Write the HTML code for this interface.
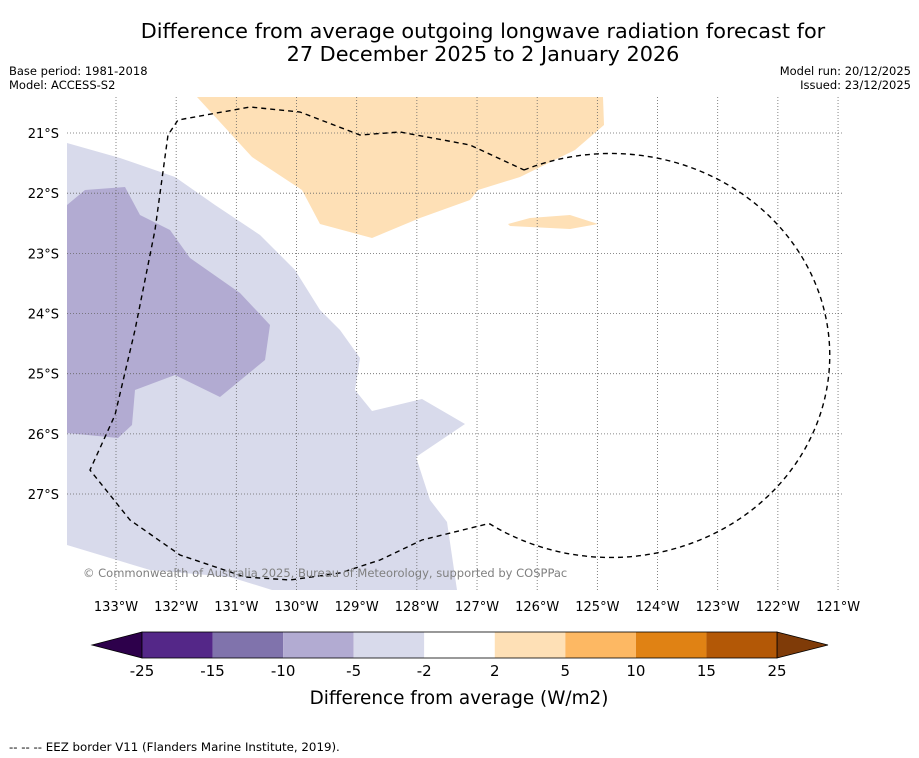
<!DOCTYPE html>
<html><head><meta charset="utf-8">
<style>
body{margin:0;background:#fff;width:919px;height:758px;overflow:hidden;font-family:"Liberation Sans","DejaVu Sans",sans-serif;}
svg{position:absolute;left:0;top:0}
</style></head>
<body>
<svg id="c" width="919" height="758">
<text x="483" y="38" text-anchor="middle" font-size="20.8" font-family="DejaVu Sans, sans-serif">Difference from average outgoing longwave radiation forecast for</text>
<text x="483" y="61" text-anchor="middle" font-size="20.8" font-family="DejaVu Sans, sans-serif">27 December 2025 to 2 January 2026</text>
<text x="9" y="75" font-size="11.5" font-family="DejaVu Sans, sans-serif">Base period: 1981-2018</text>
<text x="9" y="89" font-size="11.5" font-family="DejaVu Sans, sans-serif">Model: ACCESS-S2</text>
<text x="911" y="75" text-anchor="end" font-size="11.5" font-family="DejaVu Sans, sans-serif">Model run: 20/12/2025</text>
<text x="911" y="89" text-anchor="end" font-size="11.5" font-family="DejaVu Sans, sans-serif">Issued: 23/12/2025</text>
<defs><clipPath id="mc"><rect x="67" y="97" width="776" height="493"/></clipPath></defs>
<g id="map" clip-path="url(#mc)">
<polygon fill="#d8daeb" points="67,143 120,158 175,177 215,205 260,235 295,270 320,310 340,330 360,358 355,390 372,411 422,399 465,424 416,457 430,500 447,522 457,590 272,590 230,577 150,570 67,545"/>
<polygon fill="#b2abd2" points="67,205 85,190 125,187 140,215 170,230 190,258 240,293 270,325 265,360 220,397 175,375 135,390 132,425 118,438 67,433"/>
<polygon fill="#fee0b6" points="197,97 603,97 604,125 575,150 520,177 478,190 470,200 420,218 372,238 320,224 302,190 252,157"/>
<polygon fill="#fee0b6" points="508,224 530,218 570,215 598,224 570,229 510,226"/>
<g id="grid"></g>
<path fill="none" stroke="#000" stroke-width="1.4" stroke-dasharray="5,4" d="M524,170 A219,202 0 1 1 490,524 L487,524 L422,540 L380,560 L340,573 L290,580 L245,577 L180,555 L130,520 L90,470 L115,415 L135,330 L155,230 L168,135 L178,120 L250,107 L300,112 L360,135 L400,132 L470,145 L524,170"/>
<text x="83" y="577" font-size="11.5" fill="#808080" font-family="DejaVu Sans, sans-serif">© Commonwealth of Australia 2025, Bureau of Meteorology, supported by COSPPac</text>
</g>
<g id="axes"></g>
<g id="cbar"></g>
<text x="459" y="704" text-anchor="middle" font-size="18.4" font-family="DejaVu Sans, sans-serif">Difference from average (W/m2)</text>
<text x="9" y="751" font-size="11.8" font-family="DejaVu Sans, sans-serif">-- -- -- EEZ border V11 (Flanders Marine Institute, 2019).</text>
</svg>
<script>
const lonTicks=[133,132,131,130,129,128,127,126,125,124,123,122,121];
const latTicks=[21,22,23,24,25,26,27];
const levels=[-25,-15,-10,-5,-2,2,5,10,15,25];
const levelColors=["#542788","#8073ac","#b2abd2","#d8daeb","#ffffff","#fee0b6","#fdb863","#e08214","#b35806"];
const NS="http://www.w3.org/2000/svg";
function xLon(l){return 116+(133-l)*60.17;}
function yLat(l){return 133+(l-21)*60.17;}
function mk(p,t,a){const e=document.createElementNS(NS,t);for(const k in a)e.setAttribute(k,a[k]);p.appendChild(e);return e;}
const grid=document.getElementById('grid'),axes=document.getElementById('axes'),cb=document.getElementById('cbar');
lonTicks.forEach(l=>{const x=xLon(l);
 const g=mk(grid,'line',{x1:x,x2:x,y1:97,y2:590,stroke:'#666','stroke-width':0.8,'stroke-dasharray':'1,2'});
 
 
 const t=mk(axes,'text',{x:x,y:611,'text-anchor':'middle','font-size':13,'font-family':'DejaVu Sans, sans-serif'});t.textContent=l+'°W';
 
 });
latTicks.forEach(l=>{const y=yLat(l);
 const g=mk(grid,'line',{x1:67,x2:843,y1:y,y2:y,stroke:'#666','stroke-width':0.8,'stroke-dasharray':'1,2'});
 
 
 const t=mk(axes,'text',{x:59,y:y+5,'text-anchor':'end','font-size':13,'font-family':'DejaVu Sans, sans-serif'});t.textContent=l+'°S';
 
 });
const cx0=142,cx1=777,cy=632,ch=26,n=levels.length-1,w=(cx1-cx0)/n;
const lt=mk(cb,'polygon',{points:`92,${cy+ch/2} ${cx0},${cy} ${cx0},${cy+ch}`,fill:'#2d004b',stroke:'#000','stroke-width':0.8});


const rt=mk(cb,'polygon',{points:`828,${cy+ch/2} ${cx1},${cy} ${cx1},${cy+ch}`,fill:'#7f3b08',stroke:'#000','stroke-width':0.8});


levelColors.forEach((c,i)=>{const r=mk(cb,'rect',{x:cx0+i*w,y:cy,width:w,height:ch,fill:c});
 
 });
mk(cb,'rect',{x:cx0,y:cy,width:cx1-cx0,height:ch,fill:'none',stroke:'#000','stroke-width':0.8});
levels.forEach((v,i)=>{const t=mk(cb,'text',{x:cx0+i*w,y:676,'text-anchor':'middle','font-size':15,'font-family':'DejaVu Sans, sans-serif'});t.textContent=v;
 
 });
</script>
</body></html>
